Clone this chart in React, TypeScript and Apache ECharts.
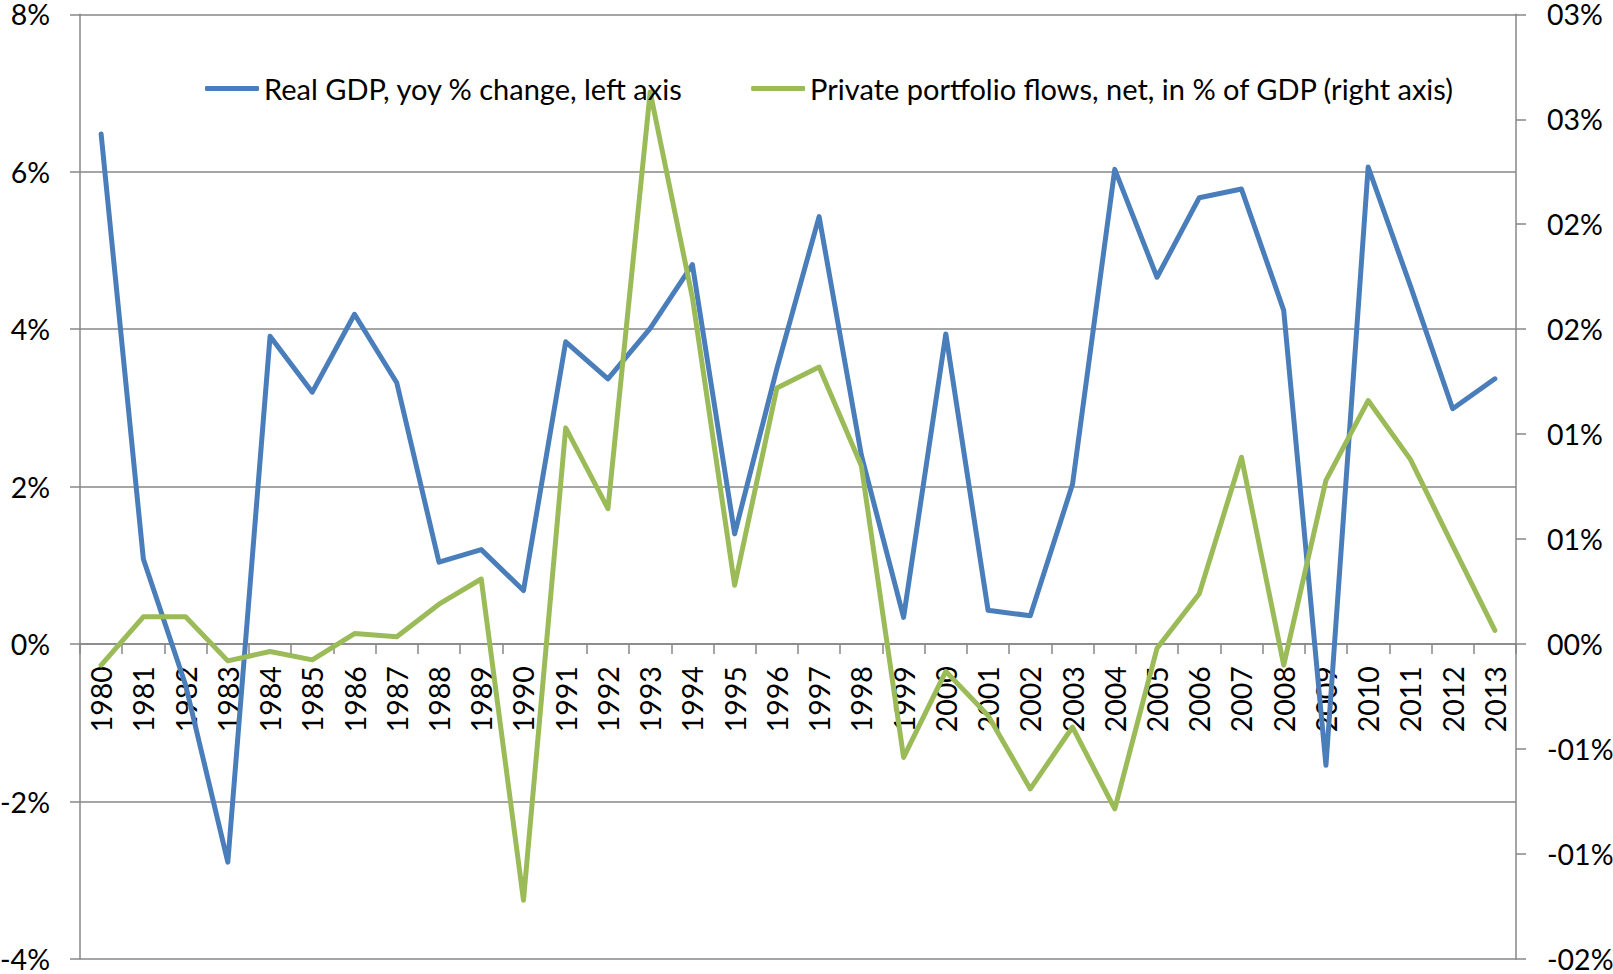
import React, { useEffect, useRef } from "react";
import * as echarts from "echarts";

const years = [
  "1980","1981","1982","1983","1984","1985","1986","1987","1988","1989",
  "1990","1991","1992","1993","1994","1995","1996","1997","1998","1999",
  "2000","2001","2002","2003","2004","2005","2006","2007","2008","2009",
  "2010","2011","2012","2013",
];

// Real GDP, yoy % change (left axis, in %)
const gdpGrowth = [
  6.48, 1.08, -0.52, -2.77, 3.91, 3.2, 4.19, 3.32, 1.04, 1.2,
  0.68, 3.84, 3.37, 4.01, 4.82, 1.4, 3.5, 5.43, 2.4, 0.34,
  3.94, 0.43, 0.36, 2.03, 6.03, 4.66, 5.67, 5.78, 4.24, -1.54,
  6.06, 4.55, 2.99, 3.37,
];

// Private portfolio flows, net, in % of GDP (right axis, in %)
const portfolioFlows = [
  -0.1, 0.13, 0.13, -0.08, -0.035, -0.075, 0.05, 0.035, 0.19, 0.31,
  -1.22, 1.03, 0.645, 2.63, 1.65, 0.28, 1.22, 1.32, 0.85, -0.54,
  -0.13, -0.34, -0.69, -0.395, -0.785, -0.02, 0.24, 0.89, -0.1, 0.78,
  1.16, 0.88, 0.47, 0.065,
];

// left axis range (%)
const leftMin = -4;
const leftMax = 8;

const seriesNames = [
  "Real GDP, yoy % change, left axis",
  "Private portfolio flows, net, in % of GDP (right axis)",
];

const FONT = "Lato";
const FS = 28.5;
const GRID_COLOR = "#878787";
const W = 1613;
const H = 974;
const GRID_TOP = 14.3;
const GRID_BOTTOM = 15;

export default function App() {
  const ref = useRef<HTMLDivElement>(null);

  useEffect(() => {
    if (!ref.current) return;
    const chart = echarts.init(ref.current, null, { renderer: "svg" });
    const rightFmt = (v: number) => {
      const r = Math.round(Math.abs(v) + 1e-9);
      return (v < -1e-9 ? "-" : "") + String(r).padStart(2, "0") + "%";
    };
    // shift the category axis up from the grid bottom to the zero line of the left axis
    const plotH = H - GRID_TOP - GRID_BOTTOM;
    const zeroOffset = -(plotH * (0 - leftMin)) / (leftMax - leftMin);

    chart.setOption({
      animation: false,
      backgroundColor: "#ffffff",
      textStyle: { fontFamily: FONT, color: "#000" },
      grid: {
        left: 80,
        right: 97,
        top: GRID_TOP,
        bottom: GRID_BOTTOM,
        containLabel: false,
        outerBoundsMode: "none",
      },
      legend: {
        data: seriesNames,
        left: 205,
        top: 74,
        padding: 0,
        icon: "roundRect",
        itemWidth: 54,
        itemHeight: 5,
        itemGap: 68,
        textStyle: { fontFamily: FONT, fontSize: 29, color: "#000", lineHeight: 29 },
      },
      xAxis: {
        type: "category",
        data: years,
        boundaryGap: true,
        position: "bottom",
        offset: zeroOffset,
        axisLine: {
          show: true,
          onZero: false,
          lineStyle: { color: GRID_COLOR, width: 1.5 },
        },
        axisTick: { show: true, length: 10, alignWithLabel: false, interval: 0, lineStyle: { color: GRID_COLOR, width: 1.5 } },
        axisLabel: {
          interval: 0,
          rotate: 90,
          margin: 22,
          fontFamily: FONT,
          fontSize: FS,
          lineHeight: FS,
          color: "#000",
        },
        splitLine: { show: false },
      },
      yAxis: [
        {
          type: "value",
          min: leftMin,
          max: leftMax,
          interval: 2,
          position: "left",
          axisLine: { show: true, onZero: false, lineStyle: { color: GRID_COLOR, width: 1.5 } },
          axisTick: { show: true, length: 10, lineStyle: { color: GRID_COLOR, width: 1.5 } },
          axisLabel: {
            formatter: "{value}%",
            margin: 30,
            fontFamily: FONT,
            fontSize: FS,
            lineHeight: 22,
            color: "#000",
          },
          splitLine: { show: true, lineStyle: { color: GRID_COLOR, width: 1.5 } },
        },
        {
          type: "value",
          min: -1.5,
          max: 3,
          interval: 0.5,
          position: "right",
          axisLine: { show: true, onZero: false, lineStyle: { color: GRID_COLOR, width: 1.5 } },
          axisTick: { show: true, length: 10, lineStyle: { color: GRID_COLOR, width: 1.5 } },
          axisLabel: {
            formatter: rightFmt,
            margin: 31,
            fontFamily: FONT,
            fontSize: FS,
            lineHeight: 22,
            color: "#000",
          },
          splitLine: { show: false },
        },
      ],
      series: [
        {
          name: seriesNames[0],
          type: "line",
          yAxisIndex: 0,
          data: gdpGrowth,
          symbol: "none",
          showSymbol: false,
          color: "#4A7EBB",
          lineStyle: { color: "#4A7EBB", width: 5, cap: "round", join: "round" },
        },
        {
          name: seriesNames[1],
          type: "line",
          yAxisIndex: 1,
          data: portfolioFlows,
          symbol: "none",
          showSymbol: false,
          color: "#9BBB59",
          lineStyle: { color: "#9BBB59", width: 5, cap: "round", join: "round" },
        },
      ],
    });
    return () => chart.dispose();
  }, []);

  return (
    <div
      ref={ref}
      style={{ position: "fixed", left: 0, top: 0, width: W, height: H, background: "#fff" }}
    />
  );
}
